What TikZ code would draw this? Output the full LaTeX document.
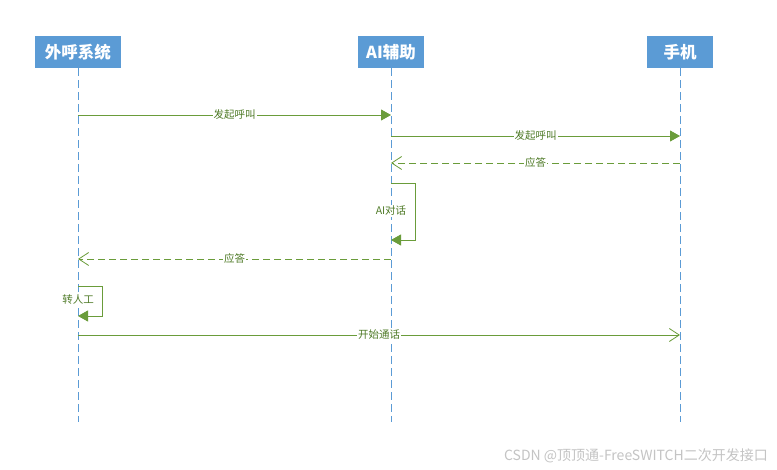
\documentclass[tikz,border=0pt]{standalone}
\usepackage{fontspec}
\setmainfont{Noto Sans CJK SC}
\usetikzlibrary{arrows.meta}
\definecolor{hdrblue}{HTML}{5B9BD5}
\definecolor{msggreen}{HTML}{6A9C3A}
\definecolor{txtgreen}{HTML}{4E7A26}
\definecolor{wmgray}{HTML}{C4C4C4}
\tikzset{
  hdr/.style={fill=hdrblue, text=white, font=\fontsize{16.5}{18}\selectfont\bfseries, inner sep=0pt, minimum height=32pt},
  lifeline/.style={draw=hdrblue, line width=0.9pt, dash pattern=on 8pt off 4pt},
  sync/.style={draw=msggreen, line width=0.9pt, -{Triangle[length=10pt,width=11pt]}},
  reply/.style={draw=msggreen, line width=0.9pt, dash pattern=on 7pt off 4pt, -{Straight Barb[length=10pt,width=13pt,line width=0.8pt]}},
  call/.style={draw=msggreen, line width=0.9pt, -{Straight Barb[length=10pt,width=13pt,line width=0.8pt]}},
  lbl/.style={fill=white, text=txtgreen, font=\fontsize{10.5}{12}\selectfont, inner sep=1pt},
}
\begin{document}
\begin{tikzpicture}[x=1pt,y=-1pt]
\path[use as bounding box, fill=white] (0,0) rectangle (777,470);
% headers
\node[hdr, minimum width=86pt] (sys) at (78,52) {外呼系统};
\node[hdr, minimum width=66pt] (ai) at (391,52) {AI辅助};
\node[hdr, minimum width=66pt] (ph) at (680,52) {手机};
% lifeline ends
\coordinate (sysE) at (78,422);
\coordinate (aiE) at (391,422);
\coordinate (phE) at (680,422);
\draw[lifeline] (sys.south) -- (sysE);
\draw[lifeline] (ai.south) -- (aiE);
\draw[lifeline] (ph.south) -- (phE);
% message points
\coordinate (m1a) at (78,115); \coordinate (m1b) at (391,115);
\coordinate (m2a) at (391,136); \coordinate (m2b) at (680,136);
\coordinate (m3a) at (680,163); \coordinate (m3b) at (391,163);
\coordinate (l1a) at (391,183); \coordinate (l1b) at (415,183);
\coordinate (l1c) at (415,240); \coordinate (l1d) at (391,240);
\coordinate (m4a) at (391,259); \coordinate (m4b) at (78,259);
\coordinate (l2a) at (78,286); \coordinate (l2b) at (102,286);
\coordinate (l2c) at (102,316); \coordinate (l2d) at (78,316);
\coordinate (m5a) at (78,335); \coordinate (m5b) at (680,335);
% messages
\draw[sync] (m1a) -- node[lbl] (t1) {发起呼叫} (m1b);
\draw[sync] (m2a) -- node[lbl] (t2) {发起呼叫} (m2b);
\draw[reply] (m3a) -- node[lbl] (t3) {应答} (m3b);
\draw[sync] (l1a) -- (l1b) -- (l1c) -- (l1d);
\node[lbl] (t4) at (391,211) {AI对话};
\draw[reply] (m4a) -- node[lbl] (t5) {应答} (m4b);
\draw[sync] (l2a) -- (l2b) -- (l2c) -- (l2d);
\node[lbl] (t6) at (78,300) {转人工};
\draw[call] (m5a) -- node[lbl] (t7) {开始通话} (m5b);
% watermark
\node[text=wmgray, font=\fontsize{14}{16}\selectfont, anchor=east, inner sep=0pt] (wm) at (768,456) {CSDN @顶顶通-FreeSWITCH二次开发接口};
\end{tikzpicture}
\end{document}
